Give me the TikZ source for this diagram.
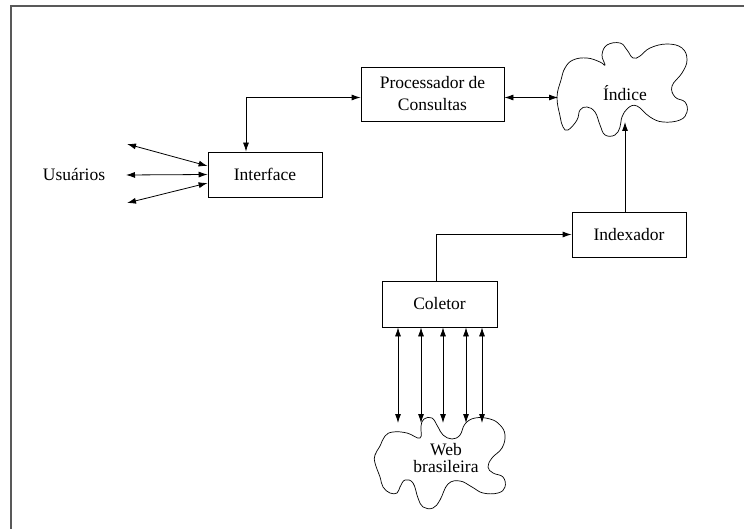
\documentclass[tikz,border=0pt]{standalone}
\usepackage{fontspec}
\setmainfont{Liberation Serif}
\usetikzlibrary{arrows.meta}
\begin{document}
\begin{tikzpicture}[x=1pt,y=-1pt,
  conn/.style={line width=0.8pt,{Latex[length=9pt,width=6pt]}-{Latex[length=9pt,width=6pt]}},
  oneway/.style={line width=0.8pt,-{Latex[length=9pt,width=6pt]}},
  box/.style={draw,line width=0.8pt,rectangle,inner sep=0pt,align=center,font=\fontsize{17.5}{22}\selectfont},
  txt/.style={inner sep=0pt,align=center,font=\fontsize{17.5}{22}\selectfont},
  cloudline/.style={line width=0.7pt}]
\useasboundingbox (0,0) rectangle (744,529);
% frame
\draw[line width=1.6pt,black!65] (11,529) -- (11,6) -- (744,6);

% boxes
\node[box,minimum width=143pt,minimum height=54pt] (proc) at (432.5,94) {Processador de\\Consultas};
\node[box,minimum width=114pt,minimum height=45pt] (interface) at (265,174.5) {Interface};
\node[box,minimum width=114pt,minimum height=45pt] (indexador) at (629,234.5) {Indexador};
\node[box,minimum width=115pt,minimum height=46pt] (coletor) at (439.5,304) {Coletor};

% Indice cloud
\draw[cloudline] plot[smooth cycle,tension=0.7] coordinates {
 (557,97) (561,80) (565,68) (573,60) (587,58) (600,62) (605,65) (602,55)
 (607,45) (620,43) (627,50) (633,58) (640,56) (650,48) (667,44) (682,48)
 (687,60) (682,73) (672,86) (675,97) (685,102) (687,112) (680,120) (663,122)
 (650,117) (637,106) (628,108) (622,117) (620,127) (615,135) (605,135)
 (600,125) (595,112) (587,107) (580,110) (577,120) (568,130) (563,127)
 (560,116) };
\node[txt] (indice) at (625,93) {Índice};

% Web cloud
\draw[cloudline] plot[smooth cycle,tension=0.7] coordinates {
 (420,438) (421,426) (424,419) (432,418) (438,427) (443,435) (452,439)
 (460,435) (465,424) (475,418) (490,419) (500,425) (505,435) (502,448)
 (492,458) (488,467) (493,473) (503,477) (505,487) (498,493) (483,493)
 (472,487) (460,481) (448,484) (440,500) (433,508) (423,507) (418,498)
 (413,483) (405,480) (400,487) (397,493) (390,493) (383,487) (380,477)
 (375,463) (375,455) (380,446) (385,436) (393,432) (407,433) };
\node[txt,font=\fontsize{17.5}{17}\selectfont] (web) at (446,458) {Web\\brasileira};

% Usuarios
\node[txt] (usuarios) at (74,175) {Usuários};
\coordinate (u1) at (127,144);
\coordinate (u2) at (126,175);
\coordinate (u3) at (127,203);
\draw[conn] (u1) -- ([yshift=8.5pt]interface.west);
\draw[conn] (u2) -- (interface.west);
\draw[conn] (u3) -- ([yshift=-8.5pt]interface.west);

% Interface <-> Processador
\draw[conn] ([xshift=-19pt]interface.north) |- ([yshift=-3.5pt]proc.west);
% Processador <-> Indice
\coordinate (indL) at (558,97.5);
\draw[conn] ([yshift=-3.5pt]proc.east) -- (indL);
% Indexador -> Indice
\coordinate (indB) at (625,122);
\draw[oneway] ([xshift=-4pt]indexador.north) -- (indB);
% Coletor -> Indexador
\draw[oneway] ([xshift=-3.5pt]coletor.north) |- (indexador.west);
% Coletor <-> Web
\foreach \i/\x in {1/398,2/421,3/443,4/466,5/482}{
  \coordinate (w\i) at (\x,423);
  \draw[conn] (coletor.south -| w\i) -- (w\i);
}
\end{tikzpicture}
\end{document}
